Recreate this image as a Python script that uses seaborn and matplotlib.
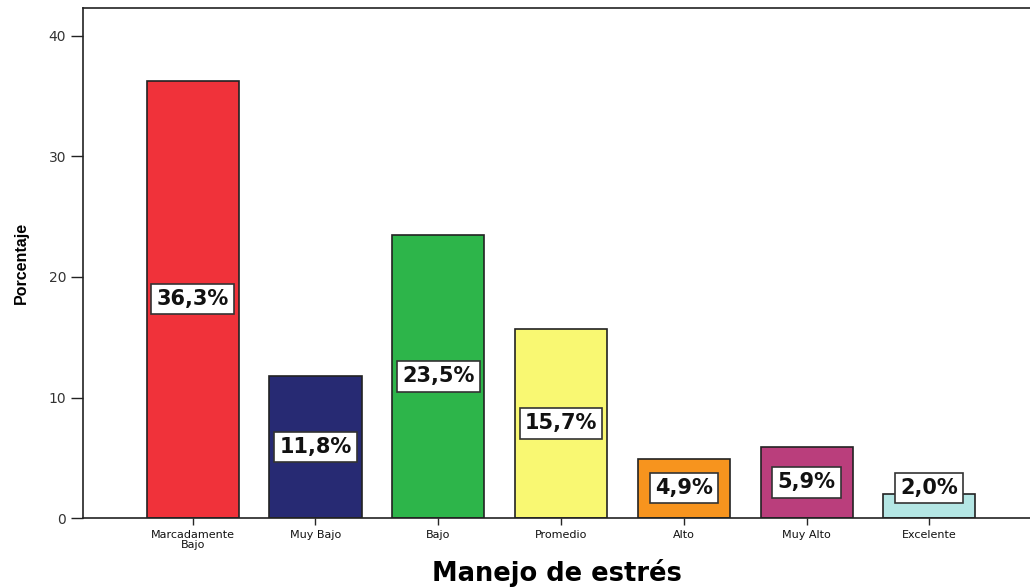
import pandas as pd
import matplotlib.pyplot as plt
import seaborn as sns

# Datos del gráfico
categorias = ["Marcadamente\nBajo", "Muy Bajo", "Bajo", "Promedio", "Alto", "Muy Alto", "Excelente"]
porcentajes = [36.3, 11.8, 23.5, 15.7, 4.9, 5.9, 2.0]
etiquetas = ["36,3%", "11,8%", "23,5%", "15,7%", "4,9%", "5,9%", "2,0%"]
colores = ["#F0323A", "#272A73", "#2DB54A", "#F9F872", "#F7941E", "#BA3E7C", "#B4E6E4"]

df = pd.DataFrame({"categoria": categorias, "porcentaje": porcentajes})

sns.set_style("ticks")
plt.rcParams['font.family'] = ['DejaVu Sans']

fig, ax = plt.subplots(figsize=(10.3, 5.88), dpi=100)
fig.subplots_adjust(left=0.081, right=1.0, top=0.986, bottom=0.119)

sns.barplot(data=df, x="categoria", y="porcentaje", hue="categoria",
            palette=colores, legend=False, width=0.75,
            edgecolor="#222222", linewidth=1.2, saturation=1, ax=ax)

# Etiquetas en recuadros blancos
for i, (v, txt) in enumerate(zip(porcentajes, etiquetas)):
    ax.text(i, max(v / 2, 2.5), txt, ha="center", va="center",
            fontsize=15, fontweight="bold", color="#111111",
            bbox=dict(boxstyle="square,pad=0.25", facecolor="white",
                      edgecolor="#333333", linewidth=1.2))

ax.set_ylim(0, 42.3)
ax.set_xlim(-0.89, 6.82)
ax.set_yticks([0, 10, 20, 30, 40])
ax.tick_params(axis="y", length=9, width=1, labelsize=10, colors="#222222",
               labelcolor="#333333")
ax.tick_params(axis="x", length=5, width=1, labelsize=8, labelcolor="#111111")
for lab in ax.get_xticklabels():
    lab.set_linespacing(1.05)

ax.set_ylabel("Porcentaje", fontsize=11.5, fontweight="bold", color="black",
              family=["Liberation Sans"], labelpad=14)
ax.set_xlabel("Manejo de estrés", fontsize=18.5, fontweight="bold", color="black",
              labelpad=6)

for side in ["left", "bottom", "top"]:
    ax.spines[side].set_visible(True)
    ax.spines[side].set_linewidth(1.2)
    ax.spines[side].set_color("#222222")
ax.spines["right"].set_visible(False)

plt.savefig("out.png", dpi=100)
